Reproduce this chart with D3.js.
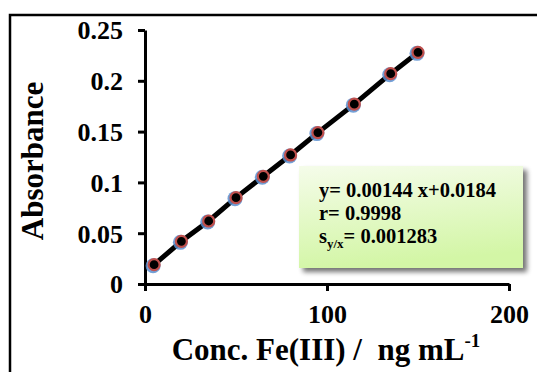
<!DOCTYPE html>
<html>
<head>
<meta charset="utf-8">
<script src="https://d3js.org/d3.v7.min.js"></script>
<style>
  body { margin: 0; background: #fff; }
  svg text { font-family: "Liberation Serif", "Times New Roman", serif; font-weight: bold; fill: #000; }
</style>
</head>
<body>
<svg id="chart" width="537" height="372"></svg>
<script>
// concentration (ng/mL) and absorbance
const conc = [5, 20, 35, 50, 65, 80, 95, 115, 135, 150];
const absorb = [0.019, 0.042, 0.062, 0.085, 0.106, 0.127, 0.149, 0.177, 0.207, 0.228];
const xTicks = [0, 100, 200];
const yTicks = [0, 0.05, 0.1, 0.15, 0.2, 0.25];
const yTickLabels = ["0", "0.05", "0.1", "0.15", "0.2", "0.25"];
const statLines = ["y= 0.00144 x+0.0184", "r= 0.9998"];

const svg = d3.select("#chart");

const x = d3.scaleLinear().domain([0, 200]).range([145, 509]);
const y = d3.scaleLinear().domain([0, 0.25]).range([284, 30]);

// outer frame (only top and left visible in the crop)
svg.append("path")
  .attr("d", "M10,372 V15 H537")
  .attr("fill", "none").attr("stroke", "#000").attr("stroke-width", 2.5);

const defs = svg.append("defs");
const grad = defs.append("linearGradient").attr("id", "boxFill")
  .attr("x1", 0).attr("y1", 0).attr("x2", 0.2).attr("y2", 1);
grad.append("stop").attr("offset", "0%").attr("stop-color", "#f5fcea");
grad.append("stop").attr("offset", "100%").attr("stop-color", "#d3f6a6");

const shadow = defs.append("filter").attr("id", "shadow")
  .attr("x", "-10%").attr("y", "-10%").attr("width", "130%").attr("height", "130%");
shadow.append("feGaussianBlur").attr("in", "SourceAlpha").attr("stdDeviation", 2.5);
shadow.append("feOffset").attr("dx", 4).attr("dy", 4).attr("result", "off");
shadow.append("feComponentTransfer").append("feFuncA").attr("type", "linear").attr("slope", 0.55);
const merge = shadow.append("feMerge");
merge.append("feMergeNode");
merge.append("feMergeNode").attr("in", "SourceGraphic");

// axes
const yAxis = svg.append("g").attr("transform", "translate(145,0)")
  .call(d3.axisLeft(y).tickValues(yTicks).tickSize(7).tickSizeOuter(0)
    .tickFormat((d, i) => yTickLabels[i]));
const xAxis = svg.append("g").attr("transform", "translate(0,284)")
  .call(d3.axisBottom(x).tickValues(xTicks).tickSize(7).tickSizeOuter(0));

[yAxis, xAxis].forEach(g => {
  g.select(".domain").attr("stroke", "#000").attr("stroke-width", 3);
  g.selectAll(".tick line").attr("stroke", "#000").attr("stroke-width", 3);
  g.selectAll(".tick text").attr("font-size", 26).attr("font-family", null);
});
yAxis.selectAll(".tick text").attr("x", -22).attr("dy", "0.34em");
xAxis.selectAll(".tick text").attr("y", 21);

// data line
const line = d3.line().x((d, i) => x(conc[i])).y(d => y(d));
svg.append("path").datum(absorb)
  .attr("d", line)
  .attr("fill", "none").attr("stroke", "#000").attr("stroke-width", 5);

// markers: blue glow under a red-ringed black dot
const pts = svg.append("g");
pts.selectAll("circle.glow").data(absorb).join("circle")
  .attr("class", "glow")
  .attr("cx", (d, i) => x(conc[i]) - 1).attr("cy", d => y(d) + 1)
  .attr("r", 7.5).attr("fill", "#5b8fd0").attr("opacity", 0.85);
pts.selectAll("circle.dot").data(absorb).join("circle")
  .attr("class", "dot")
  .attr("cx", (d, i) => x(conc[i])).attr("cy", d => y(d))
  .attr("r", 5.5).attr("fill", "#000").attr("stroke", "#c0504d").attr("stroke-width", 2.2);

// regression box
svg.append("rect")
  .attr("x", 299).attr("y", 166).attr("width", 224).attr("height", 102)
  .attr("fill", "url(#boxFill)").attr("filter", "url(#shadow)");

const stats = svg.append("g");
stats.selectAll("text.line").data(statLines).join("text")
  .attr("class", "line")
  .attr("x", 319).attr("y", (d, i) => 197 + i * 23)
  .attr("font-size", 20.5)
  .text(d => d);
const sy = stats.append("text").attr("x", 319).attr("y", 243).attr("font-size", 20.5);
sy.append("tspan").text("s");
sy.append("tspan").attr("font-size", 13).attr("dy", 5).text("y/x");
sy.append("tspan").attr("dy", -5).text("= 0.001283");

// axis titles
svg.append("text")
  .attr("transform", "translate(43,161) rotate(-90)")
  .attr("text-anchor", "middle").attr("font-size", 31)
  .text("Absorbance");

const xt = svg.append("text")
  .attr("x", 326).attr("y", 360)
  .attr("text-anchor", "middle").attr("font-size", 31)
  .attr("xml:space", "preserve");
xt.append("tspan").text("Conc. Fe(III) /  ng mL");
xt.append("tspan").attr("font-size", 19).attr("dy", -13).text("-1");
</script>
</body>
</html>
